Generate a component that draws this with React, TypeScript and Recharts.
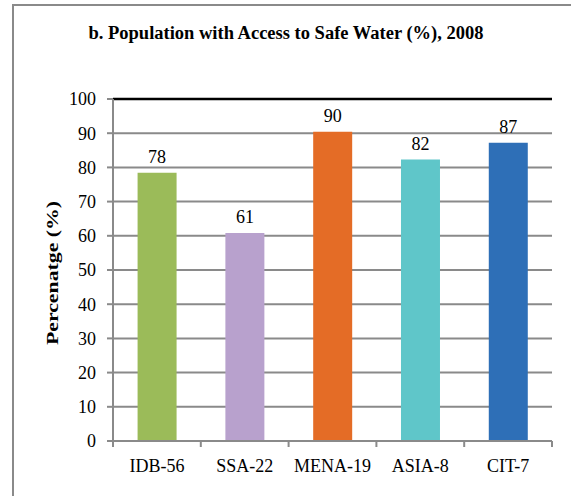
import React from 'react';
import { BarChart, Bar, XAxis, YAxis, CartesianGrid, Cell, LabelList, ReferenceLine } from 'recharts';

const categories = ['IDB-56', 'SSA-22', 'MENA-19', 'ASIA-8', 'CIT-7'];
const values = [78.4, 60.8, 90.4, 82.3, 87.2];
const yTicks = [0, 10, 20, 30, 40, 50, 60, 70, 80, 90, 100];
const titleText = 'b. Population with Access to Safe Water (%), 2008';
const yLabelText = 'Percenatge (%)';

const palette = ['#9BBB59', '#B8A1CD', '#E46C26', '#5FC6C9', '#2E6FB7'];

const data = categories.map((c, i) => ({ name: c, value: values[i] }));

const FONT = "'Liberation Serif', 'Times New Roman', serif";
const GRAY = '#8a8a8a';

const CatTick = (props: any) => {
  const { x, y, payload, width, visibleTicksCount, index } = props;
  const band = width / visibleTicksCount;
  return (
    <g>
      <line x1={x - band / 2} y1={y} x2={x - band / 2} y2={y + 6} stroke={GRAY} strokeWidth={2} />
      {index === visibleTicksCount - 1 && (
        <line x1={x + band / 2} y1={y} x2={x + band / 2} y2={y + 6} stroke={GRAY} strokeWidth={2} />
      )}
      <text x={x} y={y + 18} dy="0.71em" textAnchor="middle" fontFamily={FONT} fontSize={18} fill="#000">
        {payload.value}
      </text>
    </g>
  );
};

const ValTick = (props: any) => {
  const { x, y, payload } = props;
  return (
    <text x={x} y={y} dy="0.355em" textAnchor="end" fontFamily={FONT} fontSize={18} fill="#000">
      {payload.value}
    </text>
  );
};

const BarLabel = (props: any) => {
  const { x, y, width, value } = props;
  return (
    <text x={x + width / 2} y={y - 10} textAnchor="middle" fontFamily={FONT} fontSize={18} fill="#000">
      {Math.round(Number(value))}
    </text>
  );
};

export default function App() {
  return (
    <div style={{ position: 'relative', width: 571, height: 496, overflow: 'hidden', background: '#fff', fontFamily: FONT }}>
      <style>{'body{margin:0}'}</style>
      <div
        style={{
          position: 'absolute',
          left: 12,
          top: 4,
          width: 700,
          height: 700,
          border: `2px solid ${GRAY}`,
          boxSizing: 'border-box',
        }}
      />
      <div style={{ position: 'absolute', left: 0, top: 0 }}>
        <BarChart
          width={571}
          height={496}
          data={data}
          margin={{ top: 99, right: 19, bottom: 0, left: 0 }}
          barCategoryGap="28%"
        >
          <CartesianGrid horizontal vertical={false} stroke={GRAY} strokeWidth={2} />
          <XAxis
            dataKey="name"
            height={55}
            tickSize={0}
            tickMargin={0}
            tickLine={false}
            axisLine={{ stroke: GRAY, strokeWidth: 2 }}
            tick={<CatTick />}
            interval={0}
          />
          <YAxis
            width={113}
            domain={[0, 100]}
            ticks={yTicks}
            interval={0}
            tickSize={6}
            tickMargin={11}
            axisLine={{ stroke: GRAY, strokeWidth: 2 }}
            tickLine={{ stroke: GRAY, strokeWidth: 2 }}
            tick={<ValTick />}
          />
          <YAxis
            yAxisId="right"
            orientation="right"
            width={0}
            domain={[0, 100]}
            tick={false}
            tickLine={false}
            axisLine={{ stroke: '#000', strokeWidth: 2.5 }}
          />
          <ReferenceLine y={100} stroke="#000" strokeWidth={2.5} />
          <Bar dataKey="value" isAnimationActive={false}>
            {data.map((d, i) => (
              <Cell key={d.name} fill={palette[i]} />
            ))}
            <LabelList dataKey="value" content={<BarLabel />} />
          </Bar>
        </BarChart>
      </div>
      <svg
        width={571}
        height={496}
        style={{ position: 'absolute', left: 0, top: 0, pointerEvents: 'none' }}
      >
        <text x={286} y={39} textAnchor="middle" fontFamily={FONT} fontWeight="bold" fontSize={18.5} fill="#000">
          {titleText}
        </text>
        <text
          x={58}
          y={273}
          transform="rotate(-90 58 273)"
          textAnchor="middle"
          fontFamily={FONT}
          fontWeight="bold"
          fontSize={17}
          textLength={144}
          lengthAdjust="spacingAndGlyphs"
          fill="#000"
        >
          {yLabelText}
        </text>
      </svg>
    </div>
  );
}
